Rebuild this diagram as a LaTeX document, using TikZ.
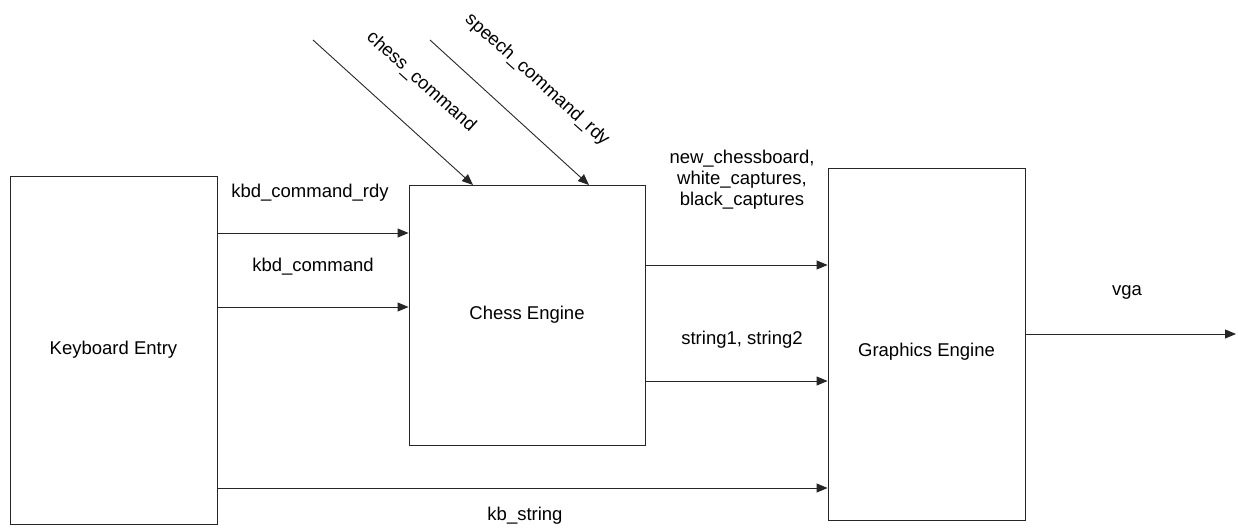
\documentclass[tikz,border=0pt]{standalone}
\usepackage{fontspec}
\setmainfont{Liberation Sans}
\usetikzlibrary{arrows.meta}
\begin{document}
\begin{tikzpicture}[x=1pt,y=-1pt,
  block/.style={draw=black!85, line width=0.9pt, rectangle, inner sep=0pt,
    font=\fontsize{18.5}{22}\selectfont},
  sig/.style={draw=black!85, line width=0.9pt, -{Triangle[length=11pt,width=9pt]}},
  lbl/.style={font=\fontsize{18.5}{21}\selectfont, align=center, inner sep=0pt}]
\useasboundingbox (0,0) rectangle (1238,529);

% blocks
\node[block, minimum width=207pt, minimum height=348pt] (kbd) at (113.5,350) {Keyboard Entry};
\node[block, minimum width=236pt, minimum height=260pt] (chess) at (527,315) {Chess Engine};
\node[block, minimum width=197pt, minimum height=352pt,
  label={[lbl, yshift=-8pt]center:Graphics Engine}] (gfx) at (926.5,344) {};

% signal levels
\coordinate (yrdy) at (0,233);
\coordinate (ycmd) at (0,307);
\coordinate (yboard) at (0,265);
\coordinate (ystr) at (0,381);
\coordinate (yvga) at (0,334);
\coordinate (ykb) at (0,488);
\coordinate (vgaout) at (1236,334);
\coordinate (ccsrc) at (313,40);
\coordinate (scsrc) at (430,40);
\coordinate (cctip) at (473,185);
\coordinate (sctip) at (589,185);

% keyboard to chess engine
\draw[sig] (kbd.east |- yrdy) -- (chess.west |- yrdy);
\draw[sig] (kbd.east |- ycmd) -- (chess.west |- ycmd);
% chess engine to graphics engine
\draw[sig] (chess.east |- yboard) -- (gfx.west |- yboard);
\draw[sig] (chess.east |- ystr) -- (gfx.west |- ystr);
% keyboard to graphics engine
\draw[sig] (kbd.east |- ykb) -- (gfx.west |- ykb);
% graphics output
\draw[sig] (gfx.east |- yvga) -- (vgaout);
% external inputs
\draw[sig] (ccsrc) -- (cctip);
\draw[sig] (scsrc) -- (sctip);

% labels
\node[lbl] (l1) at (310,193) {kbd\_command\_rdy};
\node[lbl] (l2) at (313,267) {kbd\_command};
\node[lbl] (l3) at (742,180) {new\_chessboard,\\white\_captures,\\black\_captures};
\node[lbl] (l4) at (742,340) {string1, string2};
\node[lbl] (l5) at (1127,292) {vga};
\node[lbl] (l6) at (525,516) {kb\_string};
\node[lbl, rotate=-42] (l7) at (421,82) {chess\_command};
\node[lbl, rotate=-42] (l8) at (537,80) {speech\_command\_rdy};
\end{tikzpicture}
\end{document}
